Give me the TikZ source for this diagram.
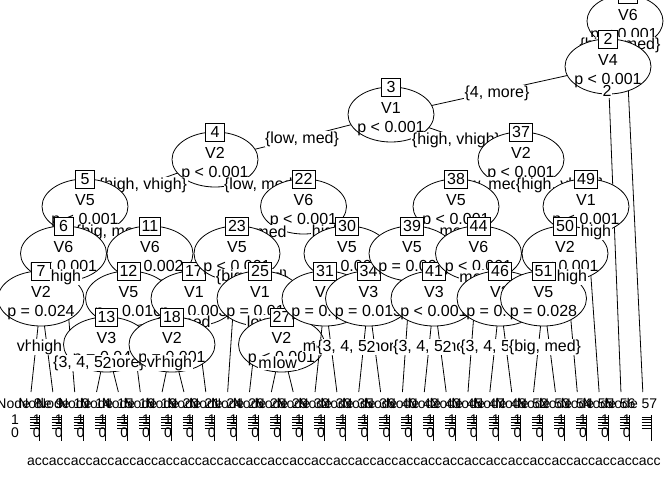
\documentclass[tikz,border=0pt]{standalone}
\usepackage{fontspec}
\setmainfont{Liberation Sans}
\usetikzlibrary{shapes.geometric,calc}
\newcommand{\inode}[3]{%
  \node[ell] (e#1) at (n#1) {};
  \node[vt] (v#1) at ($(n#1)+(0,-1)$) {#2};
  \node[vt] (p#1) at ($(n#1)+(0,18)$) {#3};
  \node[idbox] (b#1) at ($(n#1)+(0,-27.5)$) {#1};}
\newcommand{\elab}[4]{\node[elabel] (#1) at (#2,#3) {#4};}
\newcommand{\conn}[2]{\draw[cn] (#1) -- (#2);}
\begin{document}
\begin{tikzpicture}[x=1pt,y=-1pt,line width=0.8pt,
  ell/.style={ellipse,draw,fill=white,minimum width=86pt,minimum height=55pt,inner sep=0pt},
  idbox/.style={draw,fill=white,minimum width=19pt,minimum height=18pt,inner xsep=2.5pt,inner ysep=0pt,font=\fontsize{16}{16}\selectfont},
  vt/.style={anchor=base,inner sep=0pt,font=\fontsize{16}{16}\selectfont},
  elabel/.style={fill=white,inner xsep=0.5pt,inner ysep=1pt,font=\fontsize{16}{16}\selectfont},
  cn/.style={draw=black},
  btxt/.style={anchor=base,inner sep=0pt,font=\fontsize{14}{14}\selectfont}]
\useasboundingbox[fill=white] (0,0) rectangle (672,480);
% inner node centres
\coordinate (n1) at (625,21);
\coordinate (n2) at (608,66.5);
\coordinate (n3) at (391,114.5);
\coordinate (n4) at (215,159.5);
\coordinate (n37) at (521,159.5);
\coordinate (n5) at (85,206.5);
\coordinate (n22) at (303.5,206.5);
\coordinate (n38) at (456,206.5);
\coordinate (n49) at (586,206.5);
\coordinate (n6) at (63.5,253.5);
\coordinate (n11) at (150,253.5);
\coordinate (n23) at (237,253.5);
\coordinate (n30) at (347,253.5);
\coordinate (n39) at (412,253.5);
\coordinate (n44) at (478.5,253.5);
\coordinate (n50) at (565,253.5);
\coordinate (n7) at (41,298.5);
\coordinate (n12) at (128.5,298.5);
\coordinate (n17) at (194,298.5);
\coordinate (n25) at (260,298.5);
\coordinate (n31) at (325,298.5);
\coordinate (n34) at (368.5,298.5);
\coordinate (n41) at (434,298.5);
\coordinate (n46) at (500,298.5);
\coordinate (n51) at (543.5,298.5);
\coordinate (n13) at (106.5,344.5);
\coordinate (n18) at (172,344.5);
\coordinate (n27) at (281.5,344.5);
% leaf tops
\foreach \nm [count=\k from 0] in {8,9,10,14,15,16,19,20,21,24,26,28,29,32,33,35,36,40,42,43,45,47,48,52,53,54,55,56,57}
  {\coordinate (l\nm) at ({31+21.85*\k},392);}
% node 1
\conn{n1}{n2}\conn{n1}{l57}
\node[ell,minimum width=76pt,minimum height=52pt] (e1) at (n1) {};
\node[vt] (v1) at (628,20.7) {V6};
\node[vt] (p1) at (624,39) {p < 0.001};
\node[idbox] (b1) at (628,-6) {1};
\elab{L1}{620}{45}{\{high, med\}}
% node 2
\conn{n2}{n3}\conn{n2}{l56}
\inode{2}{V4}{p < 0.001}
\elab{L2}{497}{93}{\{4, more\}}
% node 3
\conn{n3}{n4}\conn{n3}{n37}
\inode{3}{V1}{p < 0.001}
\elab{L3}{302}{139}{\{low, med\}}
% node 4
\conn{n4}{n5}\conn{n4}{n22}
\inode{4}{V2}{p < 0.001}
\elab{L4}{143}{185}{\{high, vhigh\}}
% node 5
\conn{n5}{n6}\conn{n5}{n11}
\inode{5}{V5}{p < 0.001}
\elab{L5}{112}{232}{\{big, med\}}
% node 6
\conn{n6}{n7}\conn{n6}{l10}
\inode{6}{V6}{p < 0.001}
% node 7
\conn{n7}{l8}\conn{n7}{l9}
\inode{7}{V2}{p = 0.024}
\elab{L8}{36}{347}{vhigh}
\elab{L9}{47}{347}{high}
\elab{L10}{66}{277}{high}
% node 11
\conn{n11}{n12}\conn{n11}{n17}
\inode{11}{V6}{p = 0.002}
% node 12
\conn{n12}{n13}\conn{n12}{l16}
\inode{12}{V5}{p = 0.016}
% node 13
\conn{n13}{l14}\conn{n13}{l15}
\inode{13}{V3}{p = 0.043}
\elab{L14}{99}{363}{\{3, 4, 5more\}}
\elab{L15}{107}{363}{2}
% node 17
\conn{n17}{n18}\conn{n17}{l21}
\inode{17}{V1}{p = 0.003}
\elab{L18}{195}{322}{med}
% node 18
\conn{n18}{l19}\conn{n18}{l20}
\inode{18}{V2}{p = 0.001}
\elab{L19}{166}{363}{vhigh}
\elab{L20}{177}{363}{high}
% 4 -> 22
\elab{L22}{261}{185}{\{low, med\}}
% node 22
\conn{n22}{n23}\conn{n22}{n30}
\inode{22}{V6}{p < 0.001}
\elab{L23}{271}{232}{med}
% node 23
\conn{n23}{l24}\conn{n23}{n25}
\inode{23}{V5}{p < 0.001}
\elab{L24}{252}{277}{\{big, med\}}
% node 25
\conn{n25}{l26}\conn{n25}{n27}
\inode{25}{V1}{p = 0.014}
\elab{L26}{259}{322}{low}
% node 27
\conn{n27}{l28}\conn{n27}{l29}
\inode{27}{V2}{p < 0.001}
\elab{L28}{274}{363}{med}
\elab{L29}{285}{363}{low}
% 22 -> 30
\elab{L30}{327}{232}{high}
% node 30
\conn{n30}{n31}\conn{n30}{n34}
\inode{30}{V5}{p = 0.003}
% node 31
\conn{n31}{l32}\conn{n31}{l33}
\inode{31}{V4}{p = 0.006}
\elab{L32}{312}{347}{4}
\elab{L33}{321}{347}{more}
% node 34
\conn{n34}{l35}\conn{n34}{l36}
\inode{34}{V3}{p = 0.015}
\elab{L35}{363}{347}{\{3, 4, 5more\}}
\elab{L36}{371}{347}{2}
% 3 -> 37
\elab{L37}{456}{140}{\{high, vhigh\}}
% node 37
\conn{n37}{n38}\conn{n37}{n49}
\inode{37}{V2}{p < 0.001}
\elab{L38}{488}{185}{\{low, med\}}
% node 38
\conn{n38}{n39}\conn{n38}{n44}
\inode{38}{V5}{p < 0.001}
\elab{L39}{440}{232}{\{big, med\}}
% node 39
\conn{n39}{l40}\conn{n39}{n41}
\inode{39}{V5}{p = 0.008}
% node 41
\conn{n41}{l42}\conn{n41}{l43}
\inode{41}{V3}{p < 0.001}
\elab{L42}{439}{347}{\{3, 4, 5more\}}
\elab{L43}{447}{347}{2}
% node 44
\conn{n44}{l45}\conn{n44}{n46}
\inode{44}{V6}{p < 0.001}
\elab{L45}{475}{277}{med}
% node 46
\conn{n46}{l47}\conn{n46}{l48}
\inode{46}{V3}{p = 0.012}
\elab{L47}{506}{347}{\{3, 4, 5more\}}
\elab{L48}{514}{347}{2}
% 37 -> 49
\elab{L49}{560}{185}{\{high, vhigh\}}
% node 49
\conn{n49}{n50}\conn{n49}{l55}
\inode{49}{V1}{p < 0.001}
% node 50
\conn{n50}{n51}\conn{n50}{l54}
\inode{50}{V2}{p < 0.001}
% node 51
\conn{n51}{l52}\conn{n51}{l53}
\inode{51}{V5}{p = 0.028}
\elab{L52}{545}{347}{\{big, med\}}
\elab{L54}{572}{277}{high}
\elab{L55}{596}{232}{high}
\elab{L56}{607}{91}{2}
% terminal panels
\foreach \nm [count=\k from 0] in {8,9,10,14,15,16,19,20,21,24,26,28,29,32,33,35,36,40,42,43,45,47,48,52,53,54,55,56,57} {
  \pgfmathsetmacro{\cx}{31+21.85*\k}
  \node[btxt] (t\nm) at ({\cx-12},408) {Node \nm};
  \node[btxt] (one\nm) at ({\cx-16},424.5) {1};
  \node[btxt] (zero\nm) at ({\cx-16},437.7) {0};
  \node[btxt] (acc\nm) at ({\cx+7},465) {acc};
}
\foreach \j in {1,...,29} {
  \pgfmathsetmacro{\xj}{15+21.85*\j}
  \foreach \t in {417,419.8,422.6,425.4,428.2}
    {\draw[line width=0.7pt] (\xj-7,\t) -- (\xj+3,\t);}
  \draw (\xj+3,415) -- (\xj+3,441);
}
\end{tikzpicture}
\end{document}
